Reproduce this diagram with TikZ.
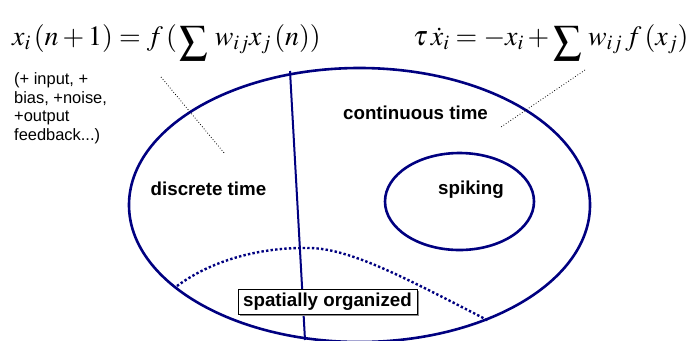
\documentclass[tikz,border=0pt]{standalone}
\usepackage{mathptmx}
\usepackage[no-math]{fontspec}
\setmainfont{Liberation Sans}
\usetikzlibrary{shapes.geometric,shadows}
\definecolor{navy}{RGB}{0,0,128}
\newcommand{\bigsumop}{\mathop{\raisebox{-6bp}{$\displaystyle\sum$}}}
\begin{document}
\begin{tikzpicture}[x=1bp,y=-1bp,
  navyline/.style={draw=navy,line width=2.6bp},
  lbl/.style={font=\fontsize{18.8}{22}\selectfont\bfseries,inner sep=0pt},
  eq/.style={font=\fontsize{28}{32}\selectfont,inner sep=0pt,anchor=base west},
  pointer/.style={draw=black,line width=0.8bp,dotted}
]
\useasboundingbox (0,0) rectangle (698,340);
% equations
\node[eq] (eqd) at (12,45) {$x_i\,(n+1) = f\,(\,\bigsumop\, w_{ij}x_j\,(n))$};
\node[eq] (eqc) at (413,45) {$\tau\,\dot{x}_i = -x_i + \bigsumop\, w_{ij}\,f\,(x_j)$};
% note
\node[anchor=north west,align=left,inner sep=0pt,font=\fontsize{16.5}{19}\selectfont] (note) at (14,72)
  {(+ input, +\\bias, +noise,\\+output\\feedback...)};
% ellipses
\node[ellipse,navyline,minimum width=461bp,minimum height=274bp,inner sep=0pt] (outer) at (359.5,205) {};
\node[ellipse,navyline,minimum width=149bp,minimum height=97bp,inner sep=0pt] (inner) at (459.5,201.5) {};
% divider
\coordinate (vt) at (290,71);
\coordinate (vb) at (305,340);
\draw[draw=navy,line width=2bp] (vt) -- (vb);
% spatial curve
\coordinate (sa) at (177,286);
\coordinate (sm) at (310,248);
\coordinate (sb) at (489,321);
\draw[draw=navy,line width=2.4bp,dash pattern=on 2.4bp off 2.2bp] (sa) .. controls (215,258) and (265,247) .. (sm) .. controls (350,249) and (400,275) .. (sb);
% pointers
\coordinate (p1a) at (161,77);
\coordinate (p1b) at (225,154);
\coordinate (p2a) at (585,70);
\coordinate (p2b) at (501,127);
\draw[pointer] (p1a) -- (p1b);
\draw[pointer] (p2a) -- (p2b);
% labels
\node[lbl] (dt) at (208.5,189) {discrete time};
\node[lbl] (ct) at (415.5,113) {continuous time};
\node[lbl] (sp) at (471,190) {spiking};
\node[lbl,draw=black,line width=0.8bp,fill=white,minimum width=179bp,minimum height=25bp,
  drop shadow={shadow xshift=1.5bp,shadow yshift=-1.5bp,fill=black!45,opacity=1}] (so) at (327.5,301.5) {spatially organized};
\end{tikzpicture}
\end{document}
